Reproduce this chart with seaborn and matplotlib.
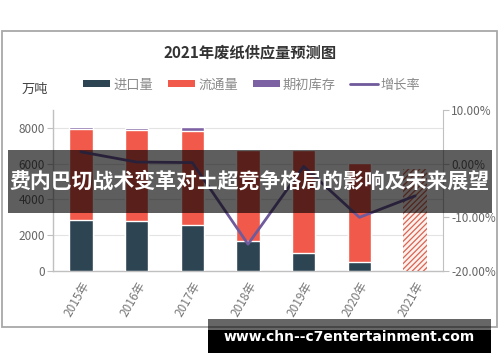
import numpy as np
import pandas as pd
import matplotlib
matplotlib.use("Agg")
import matplotlib.pyplot as plt
import seaborn as sns
from matplotlib.patches import Rectangle, Patch
from matplotlib.lines import Line2D
from matplotlib.ticker import FuncFormatter

# ---- data ----
years = ["2015年", "2016年", "2017年", "2018年", "2019年", "2020年", "2021年"]
import_vol = [2850, 2800, 2550, 1650, 1000, 500, np.nan]
circulation = [5100, 5100, 5300, 5130, 5780, 5550, np.nan]
inventory = [100, 100, 200, 0, 0, 0, np.nan]
forecast_total = [np.nan, np.nan, np.nan, np.nan, np.nan, np.nan, 5700]
growth_rate = [2.2, 0.3, 0.2, -15.0, -0.5, -10.0, -6.0]
legend_labels = ["进口量", "流通量", "期初库存", "增长率"]

C_IMP = "#2d4453"
C_CIRC = "#f1594a"
C_INV = "#7d62a3"
C_LINE = "#6f5a9c"
C_HATCH = "#d96452"

sns.set_style("white")
plt.rcParams["font.family"] = ["Noto Sans CJK SC", "DejaVu Sans"]
plt.rcParams["hatch.linewidth"] = 0.9

df = pd.DataFrame({
    "year": years,
    "imp": import_vol,
    "circ": circulation,
    "inv": inventory,
    "fc": forecast_total,
    "rate": growth_rate,
})
df["lvl2"] = df["imp"] + df["circ"]
df["lvl3"] = df["lvl2"] + df["inv"]

W, H = 500, 362
fig = plt.figure(figsize=(W / 100, H / 100), dpi=100)
ax = fig.add_axes([53 / W, 91 / H, 390 / W, 161 / H])

bw = 0.42
sns.barplot(data=df, x="year", y="lvl3", color=C_INV, saturation=1, width=bw, ax=ax, zorder=2)
sns.barplot(data=df, x="year", y="lvl2", color=C_CIRC, saturation=1, width=bw, ax=ax, zorder=3)
sns.barplot(data=df, x="year", y="imp", color=C_IMP, saturation=1, width=bw, ax=ax, zorder=4)
sns.barplot(data=df, x="year", y="fc", color="#fdf1ee", saturation=1, width=bw, ax=ax,
            edgecolor=C_HATCH, hatch="//////", linewidth=0, zorder=4)

ax.set_ylim(0, 9000)
ax.set_yticks([0, 2000, 4000, 6000, 8000])
ax.set_xlim(-0.5, 6.5)
ax.set_xlabel("")
ax.set_ylabel("")
ax.yaxis.grid(True, color="#e3e3e3", lw=0.8, zorder=0)
ax.set_axisbelow(True)
for s in ["top", "right"]:
    ax.spines[s].set_visible(False)
for s in ["left", "bottom"]:
    ax.spines[s].set_color("#c0c0c0")
    ax.spines[s].set_linewidth(1.0)
ax.tick_params(axis="y", direction="out", length=4, color="#c0c0c0",
               labelsize=8.5, labelcolor="#666666", pad=2)
ax.tick_params(axis="x", direction="out", length=4, color="#c0c0c0",
               labelsize=8.5, labelcolor="#777777", pad=2)
for lab in ax.get_xticklabels():
    lab.set_rotation(60)
    lab.set_ha("right")
    lab.set_rotation_mode("anchor")

ax2 = ax.twinx()
sns.lineplot(data=df, x="year", y="rate", color=C_LINE, lw=2, sort=False, ax=ax2, zorder=5)
ax2.set_ylim(-20, 10)
ax2.set_yticks([-20, -10, 0, 10])
ax2.yaxis.set_major_formatter(FuncFormatter(lambda v, p: f"{v:.2f}%"))
ax2.set_ylabel("")
ax2.set_xlim(-0.5, 6.5)
for s in ["top", "left", "bottom"]:
    ax2.spines[s].set_visible(False)
ax2.spines["right"].set_color("#c0c0c0")
ax2.tick_params(axis="y", direction="out", length=4, color="#c0c0c0",
                labelsize=8.5, labelcolor="#666666", pad=2)
ax2.grid(False)

# title, unit, legend
fig.text(0.5, (H - 52) / H, "2021年废纸供应量预测图", ha="center", va="center",
         fontsize=11, fontweight="bold", color="#333333")
fig.text(22 / W, (H - 89) / H, "万吨", ha="left", va="center", fontsize=9.5, color="#444444")

handles = [
    Patch(facecolor=C_IMP, edgecolor="none"),
    Patch(facecolor=C_CIRC, edgecolor="none"),
    Patch(facecolor=C_INV, edgecolor="none"),
    Line2D([0], [0], color=C_LINE, lw=2),
]
fig.legend(handles, legend_labels, loc="center", bbox_to_anchor=(252 / W, (H - 85) / H),
           ncol=4, frameon=False, fontsize=9.5, labelcolor="#8a8a8a",
           handlelength=2.05, handleheight=0.45, handletextpad=0.25, columnspacing=1.1)

# outer frame
fig.add_artist(Rectangle((2 / W, (H - 327) / H), 495 / W, 296 / H, transform=fig.transFigure,
                         fill=False, edgecolor="#a8a8a8", lw=1.3, zorder=1))

# overlay banner
fig.add_artist(Rectangle((8 / W, (H - 213) / H), 484 / W, 63 / H, transform=fig.transFigure,
                         facecolor="black", edgecolor="none", alpha=0.63, zorder=20))
fig.text(249 / W, (H - 181) / H, "费内巴切战术变革对土超竞争格局的影响及未来展望",
         ha="center", va="center", fontsize=15.0, fontweight="bold", color="white", zorder=21)

# watermark box
fig.add_artist(Rectangle((208 / W, (H - 330) / H), 283 / W, 11 / H, transform=fig.transFigure,
                         facecolor="black", edgecolor="none", alpha=0.6, zorder=20))
fig.add_artist(Rectangle((208 / W, (H - 353) / H), 283 / W, 23 / H, transform=fig.transFigure,
                         facecolor="black", edgecolor="none", zorder=20))
fig.text(349 / W, (H - 337) / H, "www.chn--c7entertainment.com", ha="center", va="center",
         fontsize=10, fontweight="bold", color="white", family="DejaVu Sans", zorder=21)

fig.savefig("out.png", dpi=100)
